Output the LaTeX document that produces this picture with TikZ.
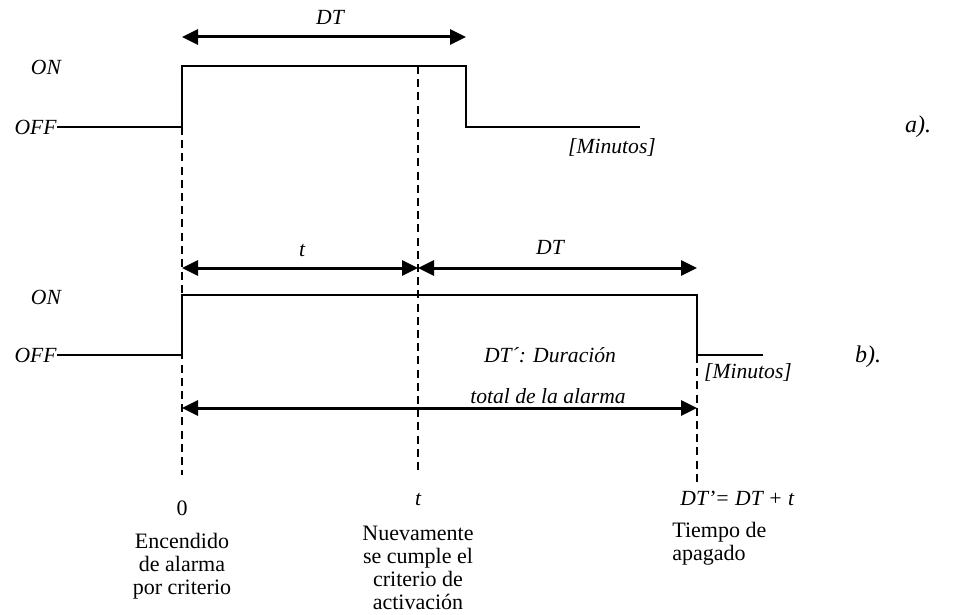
\documentclass[tikz,border=0pt]{standalone}
\usepackage{fontspec}
\setmainfont{Liberation Serif}
\usetikzlibrary{arrows.meta}
\tikzset{
    signal/.style={line width=1pt},
    guide/.style={line width=0.9pt, dash pattern=on 4pt off 2.6pt},
    dimline/.style={
        {Triangle[length=8pt,width=7.5pt]}-{Triangle[length=8pt,width=7.5pt]},
        line width=1.5pt
    },
    lbl/.style={font=\fontsize{10.8}{12}\selectfont\itshape, inner sep=0pt},
    panellbl/.style={font=\fontsize{12}{14}\selectfont\itshape, inner sep=0pt},
    caption/.style={font=\fontsize{11}{11.5}\selectfont, align=center, inner sep=0pt}
}

\begin{document}
\begin{tikzpicture}[x=0.5pt,y=-0.5pt]
\useasboundingbox (0,0) rectangle (953,615);

% instants
\coordinate (zeroTop) at (182,127);
\coordinate (tTop) at (418,66);
\coordinate (endTop) at (697,355);

% a) single activation
\node[lbl] (dtA) at (330,17) {DT};
\node[lbl] (onA) at (46,67) {ON};
\node[lbl, anchor=east] (offA) at (57,127) {OFF};
\node[lbl] (minA) at (612,147) {[Minutos]};
\node[panellbl] (capA) at (918,127) {a).};
\draw[dimline] (182,37) -- (466,37);
\draw[signal] (offA.east) -- (182,127) -- (182,66) -- (466,66) -- (466,127) -- (640,127);

% b) re-activation extends the alarm
\node[lbl] (tB) at (302,251) {t};
\node[lbl] (dtB) at (550,247) {DT};
\node[lbl] (onB) at (46,297) {ON};
\node[lbl, anchor=east] (offB) at (57,355) {OFF};
\node[lbl] (minB) at (748,372) {[Minutos]};
\node[panellbl] (capB) at (868,357) {b).};
\node[lbl] (durB) at (550,355) {DT´: Duración};
\node[lbl] (totB) at (548,396) {total de la alarma};
\draw[dimline] (182,268) -- (418,268);
\draw[dimline] (418,268) -- (697,268);
\draw[dimline] (182,408) -- (697,408);
\draw[signal] (offB.east) -- (182,355) -- (182,295) -- (697,295) -- (697,355) -- (763,355);

% guide lines
\draw[guide] (zeroTop) -- (182,475);
\draw[guide] (tTop) -- (418,475);
\draw[guide] (endTop) -- (697,483);

% time marks
\node[caption] (mark0) at (182,508) {0};
\node[lbl] (markT) at (418,500) {t};
\node[lbl, anchor=west] (markEnd) at (680,498) {DT’= DT + t};
\node[caption] (txt0) at (182,566) {Encendido\\de alarma\\por criterio};
\node[caption] (txtT) at (418,568) {Nuevamente\\se cumple el\\criterio de\\activación};
\node[caption, align=left, anchor=north west] (txtEnd) at (672,522) {Tiempo de\\apagado};
\end{tikzpicture}
\end{document}
